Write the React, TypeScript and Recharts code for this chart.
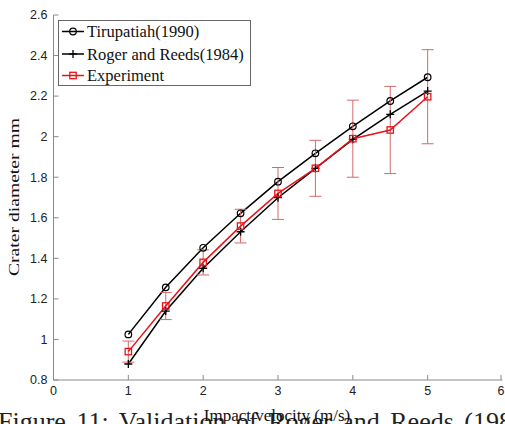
import React from 'react';
import { LineChart, Line, XAxis, YAxis, ErrorBar } from 'recharts';

const velocity = [1, 1.5, 2, 2.5, 3, 3.5, 4, 4.5, 5];
const tirupatiah = [1.025, 1.257, 1.452, 1.622, 1.778, 1.918, 2.051, 2.176, 2.293];
const rogerReeds = [0.879, 1.14, 1.351, 1.531, 1.699, 1.844, 1.987, 2.11, 2.225];
const experiment = [0.94, 1.165, 1.38, 1.559, 1.72, 1.844, 1.99, 2.033, 2.197];
const experimentError = [0.052, 0.067, 0.062, 0.083, 0.128, 0.138, 0.19, 0.215, 0.232];
const xTicks = [0, 1, 2, 3, 4, 5, 6];
const yTicks = [0.8, 1, 1.2, 1.4, 1.6, 1.8, 2, 2.2, 2.4, 2.6];
const legendLabels = ['Tirupatiah(1990)', 'Roger and Reeds(1984)', 'Experiment'];

const data = velocity.map((v, i) => ({
  v,
  tir: tirupatiah[i],
  rr: rogerReeds[i],
  exp: experiment[i],
  err: experimentError[i],
}));

const AXIS = '#8a8a8a';
const SANS = '"Liberation Sans", Arial, sans-serif';
const SERIF = '"Liberation Serif", "Times New Roman", serif';
const RED = '#e8141a';
const ERR = '#d46a6a';

const BottomTick = (p: any) => {
  const { x, y, payload } = p;
  return (
    <g>
      <line x1={x} x2={x} y1={y} y2={y - 5} stroke={AXIS} strokeWidth={1} />
      <text x={x} y={y + 15} textAnchor="middle" fontFamily={SANS} fontSize={12.5} fill="#222">
        {payload.value}
      </text>
    </g>
  );
};
const LeftTick = (p: any) => {
  const { x, y, payload } = p;
  return (
    <g>
      <line x1={x} x2={x + 5} y1={y} y2={y} stroke={AXIS} strokeWidth={1} />
      <text x={x - 6} y={y + 4.3} textAnchor="end" fontFamily={SANS} fontSize={12.5} fill="#222">
        {payload.value}
      </text>
    </g>
  );
};
const TopTick = (p: any) => {
  const { x, y } = p;
  return <line x1={x} x2={x} y1={y} y2={y + 5} stroke={AXIS} strokeWidth={1} />;
};
const RightTick = (p: any) => {
  const { x, y } = p;
  return <line x1={x} x2={x - 5} y1={y} y2={y} stroke={AXIS} strokeWidth={1} />;
};

const CircleDot = (p: any) => {
  const { cx, cy } = p;
  if (cx == null || cy == null) return null;
  return <circle cx={cx} cy={cy} r={3.3} fill="none" stroke="#000" strokeWidth={1.2} />;
};
const PlusDot = (p: any) => {
  const { cx, cy } = p;
  if (cx == null || cy == null) return null;
  return (
    <g stroke="#000" strokeWidth={1.3}>
      <line x1={cx - 4} x2={cx + 4} y1={cy} y2={cy} />
      <line x1={cx} x2={cx} y1={cy - 4} y2={cy + 4} />
    </g>
  );
};
const SquareDot = (p: any) => {
  const { cx, cy } = p;
  if (cx == null || cy == null) return null;
  return <rect x={cx - 3.2} y={cy - 3.2} width={6.4} height={6.4} fill="none" stroke={RED} strokeWidth={1.3} />;
};

export default function App() {
  const rows = [31.5, 54, 75.5];
  return (
    <div style={{ position: 'absolute', left: 0, top: 0, width: 505, height: 424, background: '#fff', overflow: 'hidden' }}>
      <LineChart width={505} height={424} data={data} margin={{ top: 15, right: 2.5, bottom: 0, left: 0 }}>
        <XAxis
          xAxisId="b"
          dataKey="v"
          type="number"
          domain={[0, 6]}
          ticks={xTicks}
          allowDataOverflow
          height={44}
          tickSize={0}
          tickMargin={0}
          tickLine={false}
          axisLine={{ stroke: AXIS }}
          tick={BottomTick}
        />
        <XAxis
          xAxisId="t"
          orientation="top"
          dataKey="v"
          type="number"
          domain={[0, 6]}
          ticks={xTicks}
          allowDataOverflow
          height={0}
          tickSize={0}
          tickMargin={0}
          tickLine={false}
          axisLine={{ stroke: AXIS }}
          tick={TopTick}
        />
        <YAxis
          yAxisId="l"
          type="number"
          domain={[0.8, 2.6]}
          ticks={yTicks}
          allowDataOverflow
          width={53.5}
          tickSize={0}
          tickMargin={0}
          tickLine={false}
          axisLine={{ stroke: AXIS }}
          tick={LeftTick}
        />
        <YAxis
          yAxisId="r"
          orientation="right"
          type="number"
          domain={[0.8, 2.6]}
          ticks={yTicks}
          allowDataOverflow
          width={0}
          tickSize={0}
          tickMargin={0}
          tickLine={false}
          axisLine={{ stroke: AXIS }}
          tick={RightTick}
        />
        <Line
          xAxisId="t"
          yAxisId="r"
          dataKey="tir"
          stroke="#000"
          strokeWidth={1.5}
          dot={<CircleDot />}
          isAnimationActive={false}
        />
        <Line
          xAxisId="b"
          yAxisId="l"
          dataKey="rr"
          stroke="#000"
          strokeWidth={1.5}
          dot={<PlusDot />}
          isAnimationActive={false}
        />
        <Line
          xAxisId="b"
          yAxisId="l"
          dataKey="exp"
          stroke={RED}
          strokeWidth={1.5}
          dot={<SquareDot />}
          isAnimationActive={false}
        >
          <ErrorBar dataKey="err" width={6} stroke={ERR} strokeWidth={1} direction="y" />
        </Line>
      </LineChart>
      <svg width={505} height={424} style={{ position: 'absolute', left: 0, top: 0, pointerEvents: 'none' }}>
        <text
          transform="rotate(-90)"
          x={-197}
          y={19}
          textAnchor="middle"
          fontFamily={SERIF}
          fontSize={15}
          textLength={158}
          lengthAdjust="spacingAndGlyphs"
          fill="#111"
        >
          Crater diameter mm
        </text>
        <text x={-2} y={430} fontFamily={SERIF} fontSize={26} fill="#222" wordSpacing={4}>
          Figure 11: Validation of Roger and Reeds (1984)
        </text>
        <text x={277} y={421} textAnchor="middle" fontFamily={SERIF} fontSize={17} fill="#111">
          Impact velocity (m/s)
        </text>
        <rect x={58.5} y={20.5} width={192} height={65} fill="#fff" stroke="#666" strokeWidth={1} />
        {legendLabels.map((label, i) => {
          const cy = rows[i];
          const color = i === 2 ? RED : '#000';
          return (
            <g key={label}>
              <line x1={62} x2={84} y1={cy} y2={cy} stroke={color} strokeWidth={1.5} />
              {i === 0 && <CircleDot cx={73} cy={cy} />}
              {i === 1 && <PlusDot cx={73} cy={cy} />}
              {i === 2 && <SquareDot cx={73} cy={cy} />}
              <text x={87} y={cy + 5.5} fontFamily={SERIF} fontSize={16.5} fill="#111">
                {label}
              </text>
            </g>
          );
        })}
      </svg>
    </div>
  );
}
